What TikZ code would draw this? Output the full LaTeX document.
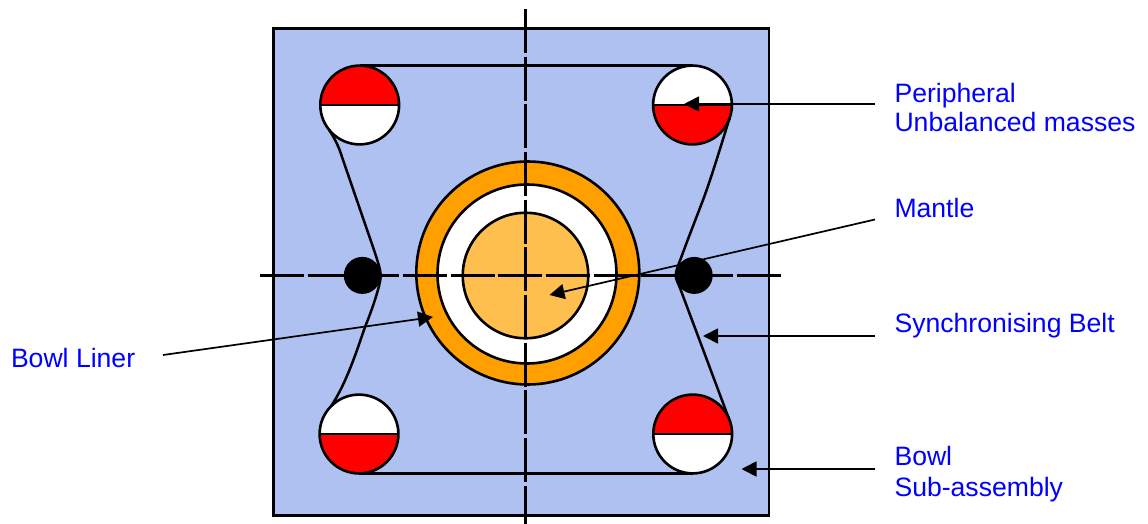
\documentclass[tikz,border=0pt]{standalone}
\usepackage{fontspec}
\setmainfont{Liberation Sans}
\usetikzlibrary{arrows.meta}
\definecolor{bowlblue}{HTML}{AFC1F0}
\definecolor{linerorange}{HTML}{FF9F00}
\definecolor{mantleorange}{HTML}{FFBF4F}
\definecolor{labelblue}{HTML}{0000FF}
\tikzset{
  ln/.style={line width=2.6pt,draw=black},
  disc/.style={circle,ln,inner sep=0pt,outer sep=0pt,minimum size=#1},
  mass/.style={disc=78.8pt,fill=white},
  redtop/.style={mass,path picture={
     \fill[red] (path picture bounding box.north west) rectangle (path picture bounding box.east);
     \draw[line width=2.8pt] (path picture bounding box.west) -- (path picture bounding box.east);}},
  redbot/.style={mass,path picture={
     \fill[red] (path picture bounding box.south west) rectangle (path picture bounding box.east);
     \draw[line width=2.8pt] (path picture bounding box.west) -- (path picture bounding box.east);}},
  centreline/.style={line width=2.4pt,dash pattern=on 44pt off 3.65pt},
  belt/.style={line width=2.5pt},
  leader/.style={line width=1.7pt,-{Triangle[length=15pt,width=15pt]},shorten >=0pt},
  lbl/.style={text=labelblue,inner sep=0pt,outer sep=0pt,align=left,anchor=base west,
     font=\fontsize{26.6}{29.4}\selectfont},
  lblwide/.style={lbl,font=\fontsize{26.6}{31}\selectfont},
}
\begin{document}
\begin{tikzpicture}[x=1pt,y=-1pt]
\useasboundingbox (0,0) rectangle (1148,524);
% bowl plate
\node[ln,fill=bowlblue,inner sep=0pt,outer sep=0pt,minimum width=495.7pt,minimum height=487pt] (plate) at (521.15,271.8) {};
% concentric parts
\node[disc=223pt,fill=linerorange] (liner) at (527.8,273) {};
\node[disc=179pt,fill=white] (gap) at (527,274) {};
\node[disc=125.5pt,fill=mantleorange] (mantle) at (525.5,275.5) {};
% masses
\node[redtop] (tl) at (359.7,105) {};
\node[redbot] (tr) at (692.5,105) {};
\node[redbot] (bl) at (359,434) {};
\node[redtop] (br) at (692.7,434) {};
% idlers
\node[circle,fill=black,inner sep=0pt,outer sep=0pt,minimum size=37pt] (idl) at (362.3,275.4) {};
\node[circle,fill=black,inner sep=0pt,outer sep=0pt,minimum size=37pt] (idr) at (694.2,275.4) {};
% centre lines
\coordinate (vt) at (525.3,9);
\coordinate (vb) at (525.3,524);
\coordinate (hl) at (260,275.5);
\coordinate (hr) at (781,275.5);
\draw[centreline] (vt) -- (vb);
\draw[centreline] (hl) -- (hr);
% belt
\draw[belt] (tl.north) -- (tr.north);
\draw[belt] (bl.south) -- (br.south);
\draw[belt] (tl.219) .. controls (335,139) and (339,147) .. (342,157)
   -- (374,250) .. controls (378,262) and (380.5,270) .. (idl.east)
   .. controls (380.5,285) and (372,310) .. (365,327)
   .. controls (357,350) and (347,382) .. (bl.135);
\draw[belt] (tr.340) .. controls (722,142) and (712,176) .. (703,200)
   .. controls (695,221) and (686,244) .. (681,258)
   .. controls (678,266) and (676,270) .. (idr.west)
   .. controls (676,280) and (678,283) .. (680,288)
   -- (br.25);
% labels
\node[lbl] (lp) at (894.5,131.7) {Peripheral\\Unbalanced masses};
\node[lbl] (lm) at (894.5,217.2) {Mantle};
\node[lbl] (ls) at (894.5,332) {Synchronising Belt};
\node[lblwide] (lb) at (894.5,496) {Bowl\\Sub-assembly};
\node[lbl] (ll) at (11,367) {Bowl Liner};
% leaders
\coordinate (ap) at (875,104);
\coordinate (ap2) at (684,104);
\coordinate (am) at (875,219.5);
\coordinate (am2) at (549.5,295);
\coordinate (as) at (875,336);
\coordinate (as2) at (703,336);
\coordinate (ab) at (875,469);
\coordinate (ab2) at (741.5,469);
\coordinate (al) at (163,355);
\coordinate (al2) at (433,317);
\draw[leader] (ap) -- (ap2);
\draw[leader] (am) -- (am2);
\draw[leader] (as) -- (as2);
\draw[leader] (ab) -- (ab2);
\draw[leader] (al) -- (al2);
\end{tikzpicture}
\end{document}
